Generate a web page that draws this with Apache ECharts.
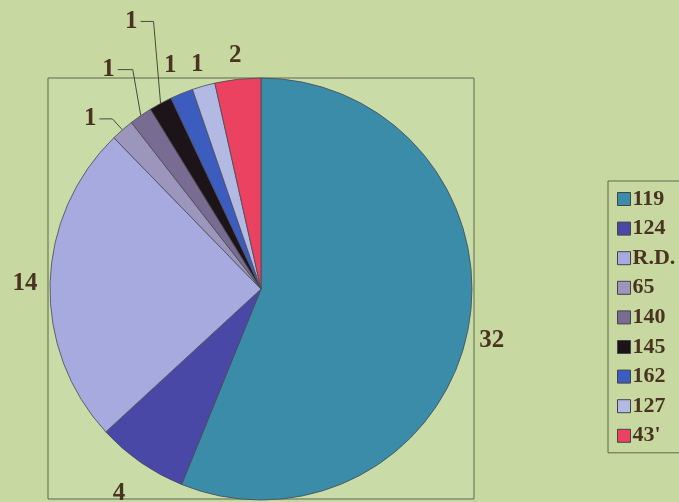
<!DOCTYPE html>
<html>
<head>
<meta charset="utf-8">
<script src="https://cdn.jsdelivr.net/npm/echarts@6/dist/echarts.min.js"></script>
<style>
html,body{margin:0;padding:0;background:#c7d9a0;}
#chart{width:679px;height:502px;}
</style>
</head>
<body>
<div id="chart"></div>
<script>
// ---- data ----
const categories = ['119', '124', 'R.D.', '65', '140', '145', '162', '127', "43'"];
const values = [32, 4, 14, 1, 1, 1, 1, 1, 2];

// ---- styles ----
const palette = ['#3a8ca8', '#4a48a6', '#a6aade', '#9c96bc', '#786c92', '#1c1418', '#3c5cc0', '#b2b9e2', '#ea4260'];
const PIE_CENTER = [261, 289];
const PIE_RADIUS = 211;
const TEXT_COLOR = '#4a3322';
// radial offset of straight labels, elbow leader settings for the others
const labelStyle = [
  {off: 24, dy: 6}, {off: 38, dy: 0}, {off: 25, dy: 1},
  {lean: 10, rise: 11, run: 13},
  {lean: 8, rise: 46, run: 15},
  {lean: 7, rise: 82, run: 13},
  {off: 30, dy: 0}, {off: 23, dy: 1}, {off: 24, dy: 0}
];

const chart = echarts.init(document.getElementById('chart'));
chart.setOption({
  backgroundColor: '#c7d9a0',
  animation: false,
  color: palette,
  graphic: [{
    type: 'rect', z: 0,
    shape: {x: 48, y: 78, width: 426, height: 421},
    style: {fill: '#c9dba6', stroke: '#5a6a4c', lineWidth: 1}
  }],
  legend: {
    orient: 'vertical',
    left: 608, top: 181,
    padding: [7, 40, 6, 9],
    borderColor: '#5a6a4c', borderWidth: 1,
    itemWidth: 13, itemHeight: 13, itemGap: 7.6,
    icon: 'rect',
    itemStyle: {borderColor: '#444', borderWidth: 1},
    textStyle: {fontFamily: 'Liberation Serif', fontWeight: 'bold', fontSize: 22, lineHeight: 22, color: TEXT_COLOR, padding: [0, 0, 0, -3]},
    data: categories
  },
  series: [{
    type: 'pie',
    center: PIE_CENTER,
    radius: PIE_RADIUS,
    startAngle: 90,
    clockwise: true,
    avoidLabelOverlap: false,
    itemStyle: {borderColor: '#4a4a55', borderWidth: 0.8},
    label: {
      show: true, position: 'outside', formatter: '{c}',
      fontFamily: 'Liberation Serif', fontWeight: 'bold', fontSize: 25, color: TEXT_COLOR
    },
    labelLine: {show: true, length: 10, length2: 10, lineStyle: {color: '#4a4a3c', width: 1}},
    emphasis: {disabled: true},
    data: categories.map((c, i) => ({name: c, value: values[i]})),
    labelLayout: function (params) {
      const st = labelStyle[params.dataIndex];
      const pts = params.labelLinePoints;
      if (!pts) return {};
      const p0 = pts[0];
      if (st.off != null) {
        const dx = p0[0] - PIE_CENTER[0], dy = p0[1] - PIE_CENTER[1];
        const len = Math.sqrt(dx * dx + dy * dy);
        return {
          x: p0[0] + dx / len * st.off,
          y: p0[1] + dy / len * st.off + st.dy,
          align: 'center', verticalAlign: 'middle',
          labelLinePoints: [p0, p0]
        };
      }
      const p1 = [p0[0] - st.lean, p0[1] - st.rise];
      const p2 = [p1[0] - st.run, p1[1]];
      return {
        x: p2[0] - 3, y: p2[1],
        align: 'right', verticalAlign: 'middle',
        labelLinePoints: [p0, p1, p2]
      };
    }
  }]
});
</script>
</body>
</html>
